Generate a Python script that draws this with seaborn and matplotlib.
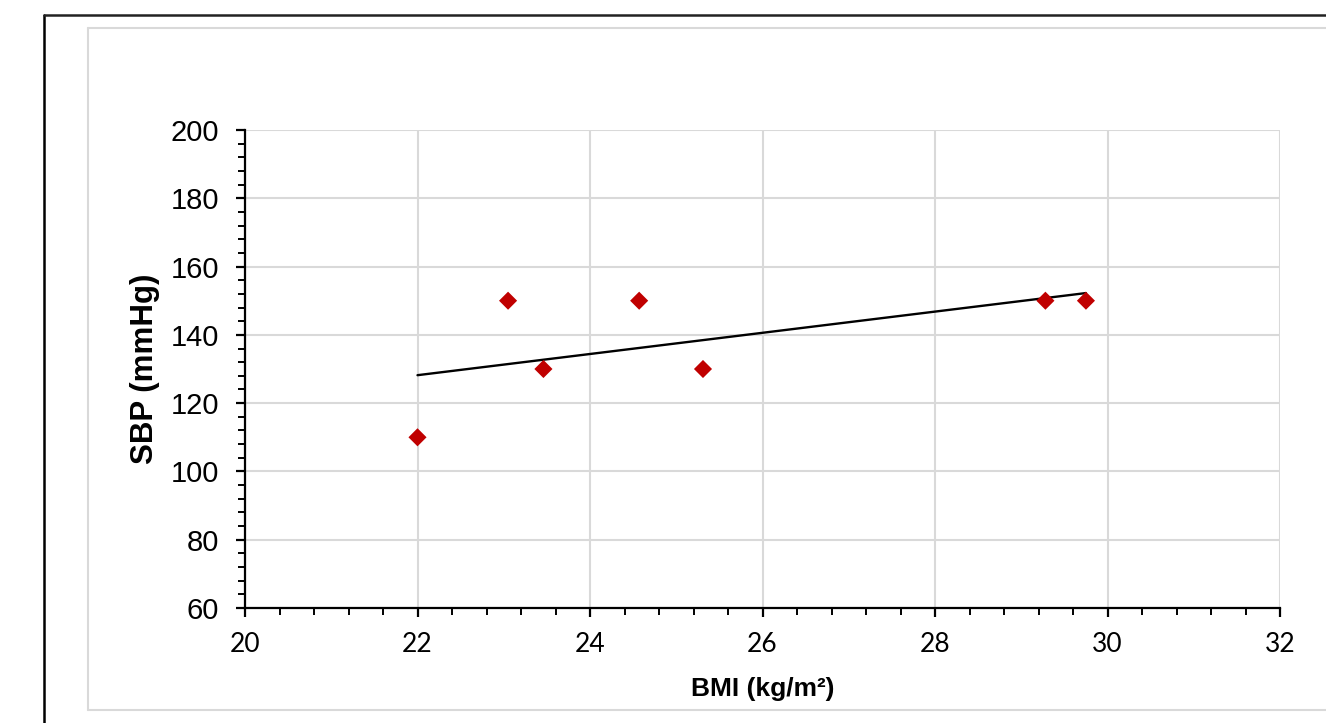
import numpy as np
import pandas as pd
import matplotlib
matplotlib.use("Agg")
import matplotlib.pyplot as plt
from matplotlib.lines import Line2D
from matplotlib.ticker import AutoMinorLocator
import seaborn as sns

# Data
bmi = [22.0, 23.05, 23.46, 24.57, 25.31, 29.28, 29.75]
sbp = [110, 150, 130, 150, 130, 150, 150]
x_ticks = [20, 22, 24, 26, 28, 30, 32]
y_ticks = [60, 80, 100, 120, 140, 160, 180, 200]

sns.set_style("white")
plt.rcParams['font.family'] = ['Liberation Sans', 'DejaVu Sans']
plt.rcParams['text.color'] = 'black'
plt.rcParams['axes.labelcolor'] = 'black'
plt.rcParams['xtick.color'] = 'black'
plt.rcParams['ytick.color'] = 'black'

df = pd.DataFrame({"BMI": bmi, "SBP": sbp})

fig = plt.figure(figsize=(13.26, 7.23), dpi=100)
ax = fig.add_axes([245/1326, 1 - 608/723, (1280-245)/1326, (608-130)/723])

sns.regplot(data=df, x="BMI", y="SBP", ax=ax, ci=None, truncate=True,
            marker="D",
            scatter_kws=dict(s=85, color="#C00000", edgecolor="none", alpha=1, zorder=4),
            line_kws=dict(color="black", linewidth=1.7, zorder=3))

ax.set_xlim(x_ticks[0], x_ticks[-1])
ax.set_ylim(y_ticks[0], y_ticks[-1])
ax.set_xticks(x_ticks)
ax.set_yticks(y_ticks)
ax.xaxis.set_minor_locator(AutoMinorLocator(5))
ax.yaxis.set_minor_locator(AutoMinorLocator(5))

ax.grid(True, which="major", color="#D9D9D9", linewidth=1.5, zorder=0)
ax.set_axisbelow(True)
for s in ["top", "right"]:
    ax.spines[s].set_visible(False)
for s in ["left", "bottom"]:
    ax.spines[s].set_color("black")
    ax.spines[s].set_linewidth(1.6)

ax.tick_params(axis="both", which="major", direction="out", length=6.5, width=1.6, color="black")
ax.tick_params(axis="both", which="minor", direction="out", length=5, width=1.4, color="black")
ax.tick_params(axis="y", which="major", labelsize=21, pad=12, labelcolor="black")
ax.tick_params(axis="x", which="major", labelsize=19, pad=11, labelcolor="black")
for lab in ax.get_xticklabels():
    lab.set_family(["Lato", "DejaVu Sans"])
ax.tick_params(axis="both", which="both", bottom=True, left=True)

ax.set_xlabel("BMI (kg/m²)", fontsize=19, fontweight="bold", labelpad=14, color="black")
ax.set_ylabel("SBP (mmHg)", fontsize=22.5, fontweight="bold", labelpad=8, color="black")

# Frames around the chart
W, H = 1326, 723
def fx(px):
    return px / W
def fy(py):
    return 1 - py / H
fig.add_artist(Line2D([fx(44), fx(44)], [fy(15), 0], color="black", linewidth=1.8, transform=fig.transFigure))
fig.add_artist(Line2D([fx(44), 1], [fy(15), fy(15)], color="#222222", linewidth=1.8, transform=fig.transFigure))
fig.add_artist(Line2D([fx(88), fx(88)], [fy(28), fy(710)], color="#D9D9D9", linewidth=1.5, transform=fig.transFigure))
fig.add_artist(Line2D([fx(88), 1], [fy(28), fy(28)], color="#D9D9D9", linewidth=1.5, transform=fig.transFigure))
fig.add_artist(Line2D([fx(88), 1], [fy(710), fy(710)], color="#D9D9D9", linewidth=1.5, transform=fig.transFigure))

fig.savefig("out.png", dpi=100)
